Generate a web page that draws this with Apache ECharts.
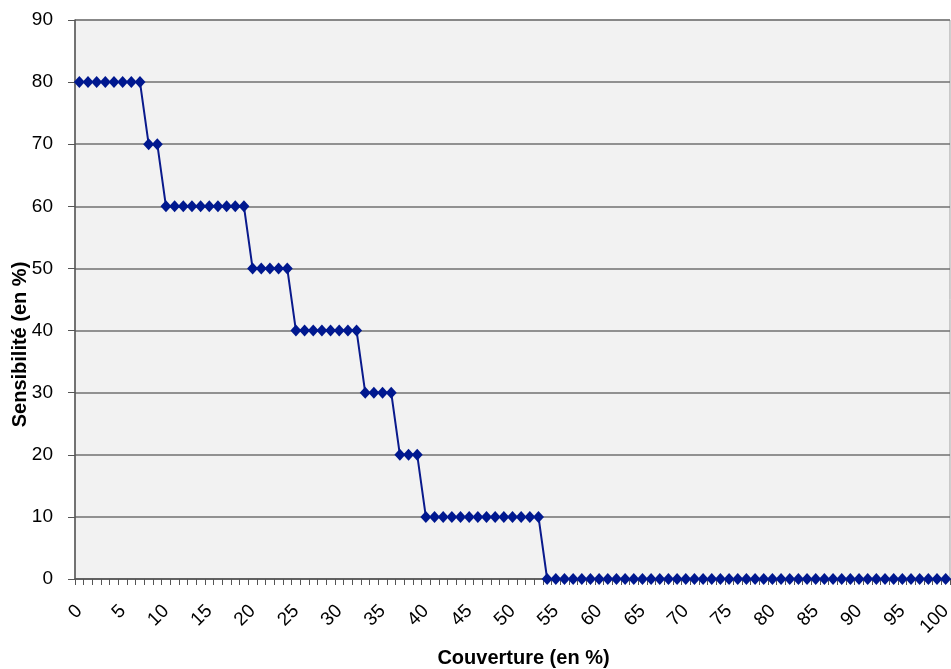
<!DOCTYPE html>
<html><head><meta charset="utf-8">
<script src="https://cdn.jsdelivr.net/npm/echarts@6/dist/echarts.min.js"></script>
<style>html,body{margin:0;padding:0;background:#fff}#c{width:951px;height:669px}</style>
</head><body><div id="c"></div>
<script>
var categories = [];
for (var i = 0; i <= 100; i++) categories.push(String(i));
var sensibilite = [
  80,80,80,80,80,80,80,80,
  70,70,
  60,60,60,60,60,60,60,60,60,60,
  50,50,50,50,50,
  40,40,40,40,40,40,40,40,
  30,30,30,30,
  20,20,20,
  10,10,10,10,10,10,10,10,10,10,10,10,10,10,
  0,0,0,0,0,0,0,0,0,0,0,0,0,0,0,0,0,0,0,0,0,0,0,0,0,0,0,0,0,0,0,0,0,0,0,0,0,0,0,0,0,0,0,0,0,0,0
];
var yTicks = [0,10,20,30,40,50,60,70,80,90];
var chart = echarts.init(document.getElementById('c'));
var font = '"Liberation Sans", Arial, sans-serif';
chart.setOption({
  animation: false,
  grid: { left: 75, right: 1, top: 20, bottom: 90, outerBoundsMode: 'none', containLabel: false,
          backgroundColor: '#f2f2f2', show: true, borderColor: '#a0a0a0', borderWidth: 1 },
  xAxis: {
    type: 'category', data: categories, boundaryGap: true,
    name: 'Couverture (en %)', nameLocation: 'middle', nameGap: 69, nameMoveOverlap: false,
    nameTextStyle: { fontFamily: font, fontSize: 20, fontWeight: 'bold', color: '#000', padding: [0,0,0,22] },
    axisLine: { lineStyle: { color: '#555', width: 1.5 } },
    axisTick: { show: true, interval: 0, length: 6, lineStyle: { color: '#555' } },
    axisLabel: { interval: 4, rotate: 45, fontFamily: font, fontSize: 19, color: '#000', margin: 29 },
    splitLine: { show: false }
  },
  yAxis: {
    type: 'value', min: yTicks[0], max: yTicks[yTicks.length - 1], interval: 10,
    name: 'Sensibilité (en %)', nameLocation: 'middle', nameGap: 45, nameMoveOverlap: false,
    nameTextStyle: { fontFamily: font, fontSize: 20, fontWeight: 'bold', color: '#000', padding: [0,90,0,0] },
    axisLine: { show: true, lineStyle: { color: '#555', width: 1.5 } },
    axisTick: { show: true, length: 7, lineStyle: { color: '#555' } },
    axisLabel: { fontFamily: font, fontSize: 19, color: '#000', margin: 22 },
    splitLine: { show: true, lineStyle: { color: '#707070', width: 1.5 } }
  },
  series: [{
    type: 'line', data: sensibilite, showAllSymbol: true,
    symbol: 'diamond', symbolSize: [11, 12],
    lineStyle: { color: '#0a1a8c', width: 2 },
    itemStyle: { color: '#00188f' }
  }]
});
</script></body></html>
